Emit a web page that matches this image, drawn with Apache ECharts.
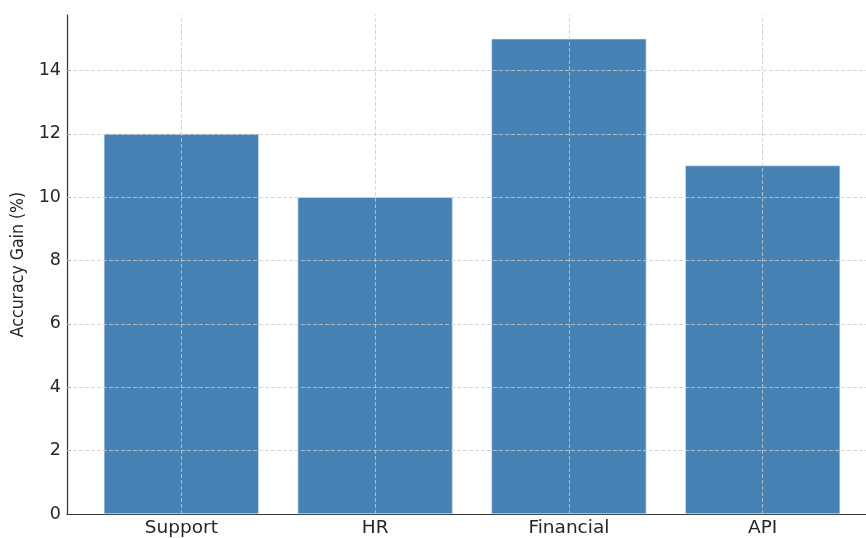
<!DOCTYPE html>
<html>
<head>
<meta charset="utf-8">
<title>Accuracy Gain by Domain</title>
<script src="https://cdn.jsdelivr.net/npm/echarts@6/dist/echarts.min.js"></script>
<style>
  html, body { margin: 0; padding: 0; background: #ffffff; overflow: hidden; }
  /* the plot runs a little past the right edge of the window */
  #chart { width: 880px; height: 538px; }
</style>
</head>
<body>
<div id="chart"></div>
<script>
// Domains on the x axis and the accuracy gain measured for each
const categories = ['Support', 'HR', 'Financial', 'API'];
const accuracyGain = [12, 10, 15, 11];
// Value-axis ticks and dashed grid positions
const yTicks = [0, 2, 4, 6, 8, 10, 12, 14];
const categoryPositions = categories.map((_, i) => i);

const gridStyle = { color: '#cccccc', width: 0.8, type: [4, 2] };
const tickFont = { fontFamily: 'DejaVu Sans', fontSize: 17.5, color: '#262626' };

const chart = echarts.init(document.getElementById('chart'), null, { renderer: 'canvas' });

chart.setOption({
  animation: false,
  backgroundColor: '#ffffff',
  grid: { left: 67, top: 15, width: 810, height: 501, containLabel: false },
  xAxis: {
    type: 'value',
    min: -0.59,
    max: 3.59,
    axisLine: { show: true, onZero: false, lineStyle: { color: '#333333', width: 1.2 } },
    axisTick: { show: true, inside: true, length: 4, customValues: categoryPositions,
                lineStyle: { color: '#333333', width: 1 } },
    splitLine: { show: false },
    axisLabel: Object.assign({}, tickFont, {
      customValues: categoryPositions,
      margin: 5,
      fontSize: 18.5,
      formatter: v => categories[Math.round(v)]
    })
  },
  yAxis: {
    type: 'value',
    min: 0,
    max: 15.75,
    interval: 2,
    name: 'Accuracy Gain (%)',
    nameLocation: 'middle',
    nameRotate: 90,
    nameGap: 34,
    nameTextStyle: { fontFamily: 'DejaVu Sans Condensed', fontSize: 17.5, color: '#262626' },
    axisLine: { show: true, onZero: false, lineStyle: { color: '#333333', width: 1.2 } },
    axisTick: { show: true, inside: true, length: 4, customValues: yTicks,
                lineStyle: { color: '#333333', width: 1 } },
    splitLine: { show: false },
    axisLabel: Object.assign({ customValues: yTicks, margin: 6 }, tickFont)
  },
  series: [{
    type: 'bar',
    data: accuracyGain.map((v, i) => [i, v]),
    barWidth: 155,
    itemStyle: { color: '#4682b4', borderColor: '#dde8f2', borderWidth: 0.6 },
    // grid lines sit above the bars
    markLine: {
      silent: true,
      symbol: ['none', 'none'],
      label: { show: false },
      lineStyle: gridStyle,
      animation: false,
      data: yTicks.filter(t => t > 0).map(t => ({ yAxis: t }))
        .concat(categoryPositions.map(p => ({ xAxis: p })))
    }
  }]
});
</script>
</body>
</html>
